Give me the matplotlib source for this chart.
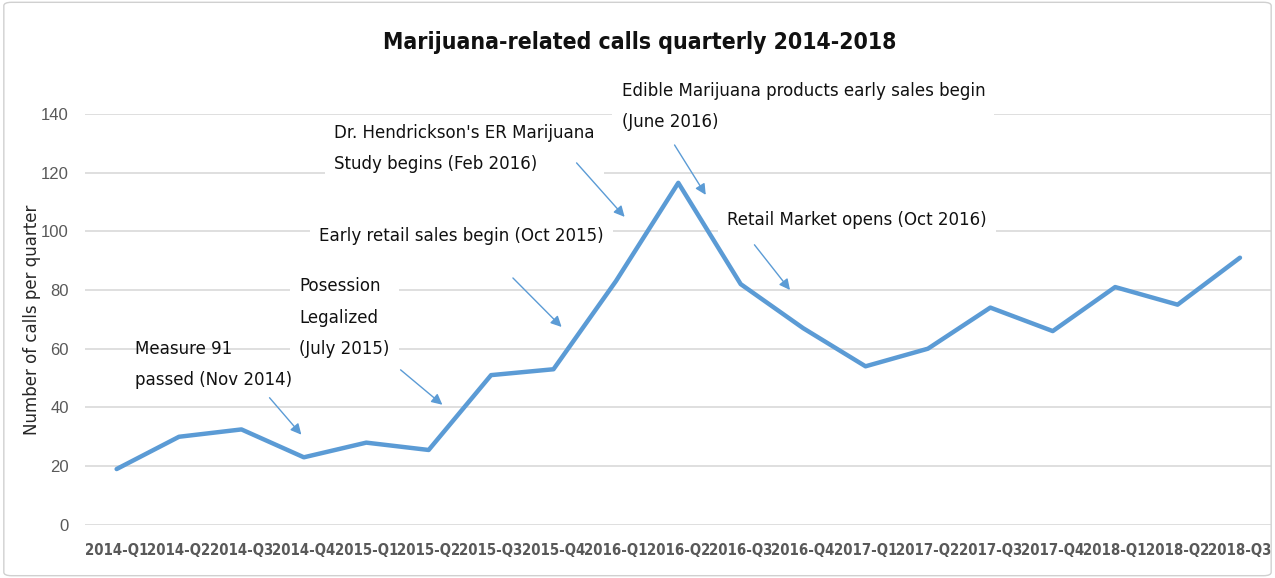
import matplotlib
matplotlib.use("Agg")
import matplotlib.pyplot as plt
import matplotlib.patches as mpatches
from matplotlib import font_manager

quarters = ["2014-Q1", "2014-Q2", "2014-Q3", "2014-Q4", "2015-Q1", "2015-Q2",
            "2015-Q3", "2015-Q4", "2016-Q1", "2016-Q2", "2016-Q3", "2016-Q4",
            "2017-Q1", "2017-Q2", "2017-Q3", "2017-Q4", "2018-Q1", "2018-Q2",
            "2018-Q3"]
calls = [19, 30, 32.5, 23, 28, 25.5, 51, 53, 83, 116.5, 82, 67,
         54, 60, 74, 66, 81, 75, 91]

# annotation texts, text anchor (x, y top-left) and arrow (tail -> head)
notes = [
    ("Measure 91\npassed (Nov 2014)", (0.29, 63.0), (2.45, 43.3), (2.96, 30.7), False),
    ("Posession\nLegalized\n(July 2015)", (2.93, 84.3), (4.55, 52.8), (5.22, 40.9), True),
    ("Early retail sales begin (Oct 2015)", (3.25, 101.6), (6.35, 84.1), (7.13, 67.4), True),
    ("Dr. Hendrickson's ER Marijuana\nStudy begins (Feb 2016)", (3.49, 136.6), (7.37, 123.3), (8.14, 104.9), True),
    ("Edible Marijuana products early sales begin\n(June 2016)", (8.09, 150.9), (8.94, 129.4), (9.44, 112.4), True),
    ("Retail Market opens (Oct 2016)", (9.78, 106.9), (10.22, 95.4), (10.79, 80.0), True),
]

names = {f.name for f in font_manager.fontManager.ttflist}
REGULAR = "Liberation Sans" if "Liberation Sans" in names else "DejaVu Sans"
# narrow look via DejaVu Sans Condensed
plt.rcParams["font.family"] = ["DejaVu Sans"]
plt.rcParams["font.stretch"] = "condensed"

BLUE = "#5B9BD5"
GRAY = "#595959"

fig = plt.figure(figsize=(12.75, 5.78), dpi=100)
ax = fig.add_axes([0.067, 0.092, 0.93, 0.711])

x = list(range(len(quarters)))
ax.plot(x, calls, color=BLUE, lw=3.2, zorder=3, solid_capstyle="round")

ax.set_xlim(-0.5, len(quarters) - 0.5)
ax.set_ylim(0, 140)
ax.set_yticks(range(0, 141, 20))
ax.set_xticks(x)
ax.set_xticklabels(quarters, fontsize=10.7, fontweight="bold", color=GRAY)
for lab in ax.get_yticklabels():
    lab.set_family([REGULAR, "DejaVu Sans"])
    lab.set_stretch("normal")
ax.tick_params(axis="y", length=0, pad=12, labelsize=12, labelcolor=GRAY)
ax.tick_params(axis="x", length=0, pad=13)
ax.grid(axis="y", color="#D9D9D9", lw=1.2)
ax.set_axisbelow(True)
for s in ax.spines.values():
    s.set_visible(False)
ax.set_ylabel("Number of calls per quarter", fontsize=12, color="#262626",
              labelpad=0, family="DejaVu Sans", stretch="normal")

fig.text(0.502, 0.927, "Marijuana-related calls quarterly 2014-2018",
         ha="center", va="center", fontsize=16.5, fontweight="bold", color="#111111")

for text, (tx, ty), tail, head, boxed in notes:
    kw = {}
    if boxed:
        kw["bbox"] = dict(boxstyle="square,pad=0.5", fc="white", ec="none")
    ax.text(tx, ty, text, ha="left", va="top", fontsize=13.3, color="#111111",
            linespacing=1.95, zorder=1.5, clip_on=False, **kw)
    ax.annotate("", xy=head, xytext=tail,
                arrowprops=dict(arrowstyle="-|>", color=BLUE, lw=1,
                                mutation_scale=16, shrinkA=0, shrinkB=0),
                zorder=2, annotation_clip=False)

fig.add_artist(mpatches.FancyBboxPatch((0.003, 0.004), 0.994, 0.992,
                                       boxstyle="round,pad=0,rounding_size=0.006",
                                       transform=fig.transFigure, fill=False,
                                       ec="#D0D0D0", lw=1))

fig.savefig("out.png", dpi=100)
